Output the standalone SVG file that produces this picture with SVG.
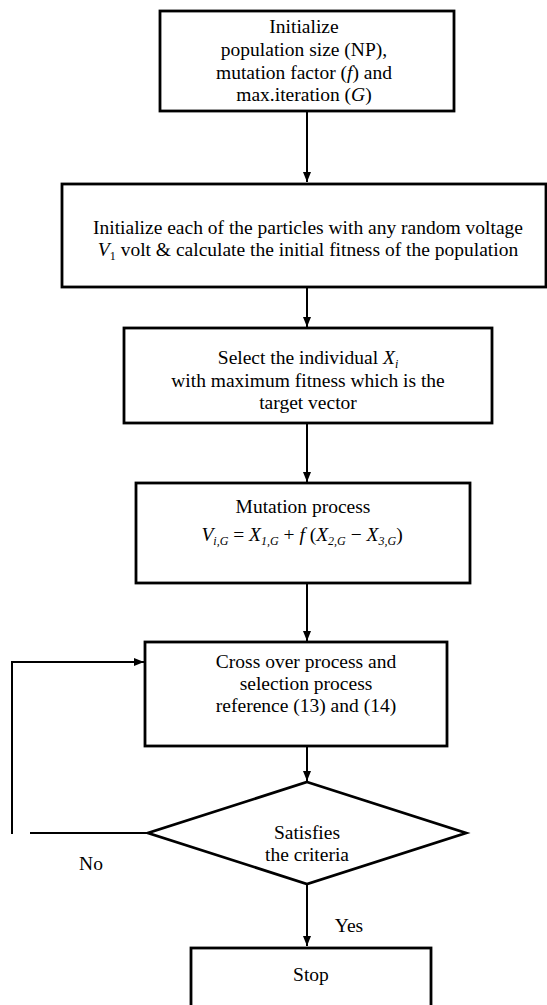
<svg xmlns="http://www.w3.org/2000/svg" width="547" height="1005" viewBox="0 0 547 1005">
<defs>
<marker id="ah" markerWidth="10" markerHeight="12" refX="10" refY="5" orient="auto" markerUnits="userSpaceOnUse">
<path d="M0,1 L10,5 L0,9 Z" fill="#000"/>
</marker>
<style>
.box{fill:#fff;stroke:#000;stroke-width:2.8}
.t{font-family:"Liberation Serif","Times New Roman",serif;font-size:19.5px;fill:#000;text-anchor:middle}
.i{font-style:italic}
.s{font-size:12px}
.c{fill:none;stroke:#000;stroke-width:2}
</style>
</defs>
<rect width="547" height="1005" fill="#fff"/>
<g id="connectors">
<line class="c" x1="307" y1="111" x2="307" y2="182" marker-end="url(#ah)"/>
<line class="c" x1="307" y1="287" x2="307" y2="327" marker-end="url(#ah)"/>
<line class="c" x1="307" y1="423" x2="307" y2="482" marker-end="url(#ah)"/>
<line class="c" x1="307" y1="583" x2="307" y2="641" marker-end="url(#ah)"/>
<line class="c" x1="307" y1="746" x2="307" y2="781" marker-end="url(#ah)"/>
<line class="c" x1="307" y1="884" x2="307" y2="946" marker-end="url(#ah)"/>
<line class="c" x1="148" y1="833" x2="30" y2="833"/>
<polyline class="c" points="12,834 12,662 144,662" marker-end="url(#ah)"/>
<text class="t" x="91" y="870">No</text>
<text class="t" x="349" y="932">Yes</text>
</g>
<g id="n1">
<rect class="box" x="160" y="11" width="294" height="100"/>
<text class="t" x="304" y="33">Initialize</text>
<text class="t" x="304" y="56">population  size (NP),</text>
<text class="t" x="304" y="79">mutation factor (<tspan class="i">f</tspan>) and</text>
<text class="t" x="304" y="101">max.iteration (<tspan class="i">G</tspan>)</text>
</g>
<g id="n2">
<rect class="box" x="62" y="184" width="484" height="103"/>
<text class="t" x="308" y="234">Initialize each of the particles with any random voltage</text>
<text class="t" x="308" y="256"><tspan class="i">V</tspan><tspan class="s" dy="4">1</tspan><tspan dy="-4"> volt &amp; calculate the initial fitness of the population</tspan></text>
</g>
<g id="n3">
<rect class="box" x="124" y="328" width="368" height="95"/>
<text class="t" x="308" y="364">Select the individual <tspan class="i">X</tspan><tspan class="i s" dy="4">i</tspan></text>
<text class="t" x="308" y="387">with maximum fitness which is the</text>
<text class="t" x="308" y="409">target vector</text>
</g>
<g id="n4">
<rect class="box" x="136" y="483" width="334" height="100"/>
<text class="t" x="303" y="513">Mutation process</text>
<text class="t" x="302" y="541"><tspan class="i">V</tspan><tspan class="i s" dy="4">i,G</tspan><tspan dy="-4"> = </tspan><tspan class="i">X</tspan><tspan class="i s" dy="4">1,G</tspan><tspan dy="-4"> + </tspan><tspan class="i">f</tspan><tspan> (</tspan><tspan class="i">X</tspan><tspan class="i s" dy="4">2,G</tspan><tspan dy="-4"> − </tspan><tspan class="i">X</tspan><tspan class="i s" dy="4">3,G</tspan><tspan dy="-4">)</tspan></text>
</g>
<g id="n5">
<rect class="box" x="145" y="642" width="302" height="104"/>
<text class="t" x="306" y="668">Cross over process and</text>
<text class="t" x="306" y="690">selection process</text>
<text class="t" x="306" y="712">reference  (13) and (14)</text>
</g>
<g id="n6">
<polygon class="box" points="307,782 466,833 307,884 148,833"/>
<text class="t" x="307" y="839">Satisfies</text>
<text class="t" x="307" y="861">the criteria</text>
</g>
<g id="n7">
<rect class="box" x="191" y="948" width="240" height="70"/>
<text class="t" x="311" y="981">Stop</text>
</g>
</svg>
